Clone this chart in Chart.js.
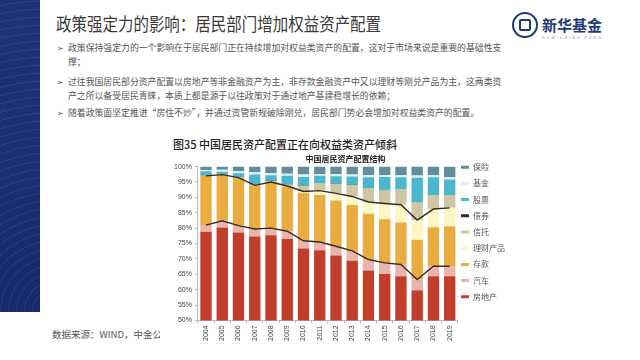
<!DOCTYPE html>
<html>
<head>
<meta charset="utf-8">
<script src="https://cdn.jsdelivr.net/npm/chart.js@4.4.1/dist/chart.umd.min.js"></script>
<style>
  body { margin: 0; width: 640px; height: 360px; background: #fff; overflow: hidden; position: relative; font-family: "Noto Sans CJK SC", sans-serif; }
  .side { position: absolute; left: 0; top: 0; width: 40px; height: 312px;
    background: repeating-radial-gradient(circle at 140% 100%, rgba(255,255,255,0) 0 7px, rgba(255,255,255,0.07) 7px 8px),
                linear-gradient(180deg, #1e3479 0%, #17296a 100%); }
  .title { position: absolute; left: 56px; top: 10px; font-size: 18px; color: #3a3a3a; white-space: nowrap; transform: scaleX(0.86); transform-origin: left top; }
  .logo { position: absolute; left: 512px; top: 12px; width: 22px; height: 22px; border: 2px solid #1f3a7a; border-radius: 50%; }
  .logo:after { content: ""; position: absolute; left: 5px; top: 5px; width: 8px; height: 8px; border: 2px solid #1f3a7a; border-radius: 2px; }
  .brand { position: absolute; left: 542px; top: 14px; font-size: 15px; font-weight: 700; color: #1f3a7a; white-space: nowrap; }
  .brand small { display: block; font-size: 4px; font-weight: 400; letter-spacing: 2px; color: #7a8aa8; margin-top: -1px; }
  .bul { position: absolute; left: 57px; font-size: 8.85px; color: #555; line-height: 14px; white-space: nowrap; }
  .bul span { display: block; padding-left: 11px; }
  .bul:before { content: "➢"; position: absolute; left: 0; top: 0; font-size: 8px; color: #555; }
  .caption { position: absolute; left: 173px; top: 136px; font-size: 11px; font-weight: 500; color: #222; white-space: nowrap; }
  .source { position: absolute; left: 52px; top: 327px; font-size: 9.5px; color: #555; white-space: nowrap; }
  #wrap { position: absolute; left: 160px; top: 150px; width: 360px; height: 193px; background: #fff; }
</style>
</head>
<body>
<div class="side"></div>
<div class="title">政策强定力的影响：居民部门增加权益资产配置</div>
<div class="logo"></div>
<div class="brand">新华基金<small>NEW CHINA FUND</small></div>
<div class="bul" style="top:41px"><span>政策保持强定力的一个影响在于居民部门正在持续增加对权益类资产的配置，这对于市场来说是重要的基础性支</span><span>撑；</span></div>
<div class="bul" style="top:75px"><span>过往我国居民部分资产配置以房地产等非金融资产为主，非存款金融资产中又以理财等刚兑产品为主，这两类资</span><span>产之所以备受居民青睐，本质上都是源于以往政策对于通过地产基建稳增长的依赖；</span></div>
<div class="bul" style="top:106px"><span>随着政策面坚定推进“房住不炒”，并通过资管新规破除刚兑，居民部门势必会增加对权益类资产的配置。</span></div>
<div class="caption">图35 中国居民资产配置正在向权益类资产倾斜</div>
<div class="source">数据来源：WIND，中金公司</div>
<div id="wrap"><canvas id="assetChart"></canvas></div>

<script>
const years = ['2004','2005','2006','2007','2008','2009','2010','2011','2012','2013','2014','2015','2016','2017','2018','2019'];

// 各类资产占比（%），自下而上堆叠
const realEstate = [78.8, 80.2, 78.6, 77.3, 77.7, 76.5, 73.4, 72.8, 71.1, 69.4, 66.2, 65.1, 64.4, 59.8, 64.4, 64.4];
const cars       = [2.2, 2.2, 2.2, 2.4, 2.3, 2.5, 2.5, 2.7, 3.0, 3.2, 3.6, 3.6, 3.8, 3.5, 3.2, 3.2];
const deposits   = [16.0, 15.0, 15.6, 14.2, 15.0, 14.5, 15.5, 15.3, 14.9, 14.9, 14.9, 14.2, 13.6, 12.9, 12.7, 13.0];
const wealthMgmt = [0, 0, 0, 0, 0, 0.2, 0.5, 1.4, 2.3, 2.8, 3.8, 5.1, 5.8, 6.4, 5.9, 6.0];
const trusts     = [0, 0, 0.1, 0.2, 0.3, 0.4, 1.9, 2.4, 3.0, 3.7, 4.4, 4.2, 5.0, 5.7, 4.5, 4.1];
const bonds      = [0.1, 0.1, 0.1, 0.1, 0.1, 0.1, 0.1, 0.1, 0.1, 0.1, 0.1, 0.1, 0.1, 0.1, 0.1, 0.1];
const stocks     = [1.4, 0.8, 1.2, 3.2, 1.8, 2.8, 2.7, 2.3, 2.5, 2.7, 3.5, 4.3, 3.8, 8.0, 5.7, 5.0];
const funds      = [0.4, 0.7, 0.7, 0.8, 0.7, 0.7, 0.8, 0.6, 0.6, 0.6, 0.8, 0.7, 0.7, 0.7, 0.7, 0.8];
const insurance  = [1.1, 1.0, 1.5, 1.8, 2.1, 2.3, 2.6, 2.4, 2.5, 2.6, 2.7, 2.7, 2.8, 2.9, 2.8, 3.4];

const yTicks = [50, 55, 60, 65, 70, 75, 80, 85, 90, 95, 100];

// 两条折线：非金融资产（房地产+汽车）与 加上存款、理财后的合计
const nonFinancial = realEstate.map((v, i) => +(v + cars[i]).toFixed(1));
const safeAssets = nonFinancial.map((v, i) => +(v + deposits[i] + wealthMgmt[i]).toFixed(1));

function barSet(label, data, color) {
  return { type: 'bar', label: label, data: data, backgroundColor: color, stack: 'assets',
           barPercentage: 0.7, categoryPercentage: 1, order: 2 };
}
function lineSet(data, stackId) {
  return { type: 'line', label: '', data: data, borderColor: '#3a2a22', borderWidth: 1.4,
           pointRadius: 0, tension: 0, fill: false, stack: stackId, order: 1 };
}

// 图例位置微调：左移并下移，贴近原图
const legendNudge = {
  id: 'legendNudge',
  afterLayout(chart) {
    const lg = chart.legend;
    if (!lg) return;
    lg.left -= 5; lg.right -= 5;
    lg.top += 5; lg.bottom += 5;
  }
};

const ctx = document.getElementById('assetChart').getContext('2d');
new Chart(ctx, {
  data: {
    labels: years,
    datasets: [
      barSet('房地产', realEstate, '#c23e2a'),
      barSet('汽车', cars, '#eab4ae'),
      barSet('存款', deposits, '#e9ad3f'),
      barSet('理财产品', wealthMgmt, '#fdf7c3'),
      barSet('信托', trusts, '#cdc7a4'),
      barSet('债券', bonds, '#2b2b2b'),
      barSet('股票', stocks, '#4bb7cc'),
      barSet('基金', funds, '#dbeef3'),
      barSet('保险', insurance, '#628e9b'),
      lineSet(nonFinancial, 'l1'),
      lineSet(safeAssets, 'l2')
    ]
  },
  plugins: [legendNudge],
  options: {
    responsive: true,
    maintainAspectRatio: false,
    animation: false,
    layout: { padding: { left: 11, right: 0, top: 0, bottom: 0 } },
    plugins: {
      title: { display: true, text: '中国居民资产配置结构', color: '#222',
               font: { family: 'Noto Sans CJK SC', size: 8, weight: 'bold' }, padding: { top: 4, bottom: 3 } },
      legend: {
        position: 'right', align: 'start', reverse: true,
        labels: {
          filter: item => item.text !== '',
          boxWidth: 8, boxHeight: 3, padding: 8.2, color: '#555',
          font: { family: 'Noto Sans CJK SC', size: 8 }
        }
      },
      tooltip: { enabled: false }
    },
    scales: {
      x: {
        stacked: true,
        ticks: { color: '#444', minRotation: 90, maxRotation: 90, padding: 2, font: { family: 'Liberation Sans', size: 7 } },
        grid: { display: true, drawOnChartArea: false, tickLength: 3, color: '#bbb', offset: true },
        border: { color: '#bbb' }
      },
      y: {
        stacked: true,
        min: 50, max: 100,
        afterBuildTicks: axis => { axis.ticks = yTicks.map(v => ({ value: v })); },
        ticks: { color: '#444', padding: 3, callback: v => v + '%', font: { family: 'Liberation Sans', size: 7 } },
        grid: { display: true, drawOnChartArea: false, tickLength: 3, color: '#bbb' },
        border: { color: '#bbb' }
      }
    }
  }
});
</script>
</body>
</html>
